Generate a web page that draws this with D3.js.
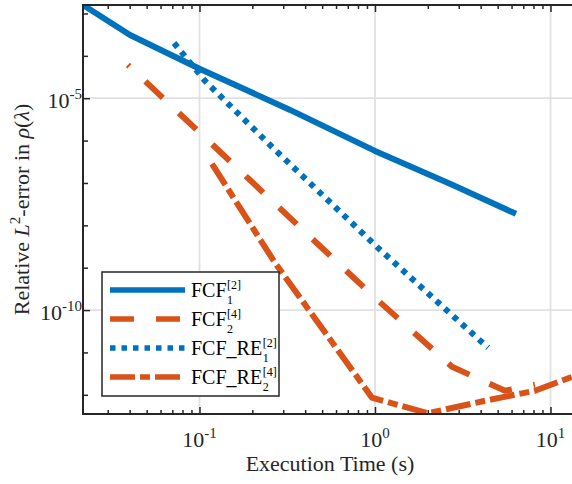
<!DOCTYPE html>
<html><head><meta charset="utf-8">
<script src="https://cdn.jsdelivr.net/npm/d3@7"></script>
<style>body{margin:0;background:#fff}</style>
</head><body>
<svg id="c" width="572" height="484"></svg>
<script>
// ---- data ----
const fcf1Time = [0.0217, 0.0402, 0.1007, 0.328, 1.0, 2.676, 6.36];
const fcf1Err  = [1.58e-3, 3.11e-4, 4.91e-5, 5.30e-6, 5.71e-7, 9.53e-8, 1.87e-8];

const fcf2Time = [0.0391, 0.1007, 0.328, 1.0, 2.746, 5.505, 8.16];
const fcf2Err  = [6.10e-5, 1.52e-6, 1.50e-8, 1.95e-10, 4.60e-12, 1.25e-12, 1.73e-12];

const fcfRe1Time = [0.0716, 0.1075, 0.2658, 1.040, 4.405];
const fcfRe1Err  = [2.01e-4, 2.56e-5, 6.37e-7, 2.94e-9, 1.29e-11];

const fcfRe2Time = [0.1178, 0.2692, 0.961, 2.004, 4.52, 8.16, 13.79];
const fcfRe2Err  = [2.82e-7, 1.31e-9, 8.55e-13, 3.68e-13, 7.66e-13, 1.25e-12, 2.82e-12];

const legendNames = ["FCF", "FCF", "FCF_RE", "FCF_RE"];
const legendSubs  = ["1", "2", "1", "2"];
const legendSups  = ["[2]", "[4]", "[2]", "[4]"];

const xTickExps = [-1, 0, 1];
const yTickExps = [-10, -5];
const xLabel = "Execution Time (s)";

// ---- layout ----
const FONT = "'Liberation Serif', 'Times New Roman', serif";
const L = 83, R = 577, T = 5, B = 414;
const x = d3.scaleLog().domain([0.02169, 14.16]).range([L, R]);
const y = d3.scaleLog().domain([Math.pow(10, -12.453), Math.pow(10, -2.80)]).range([B, T]);

const blue = "#0072BD", orange = "#D95319";
const series = [
  {t: fcf1Time, e: fcf1Err, color: blue, dash: null, off: 0},
  {t: fcf2Time, e: fcf2Err, color: orange, dash: "24 22", off: 22},
  {t: fcfRe1Time, e: fcfRe1Err, color: blue, dash: "5.5 6", off: 0},
  {t: fcfRe2Time, e: fcfRe2Err, color: orange, dash: "25 5 10 5", off: 0}
];

const svg = d3.select("#c");
svg.append("rect").attr("width", 572).attr("height", 484).attr("fill", "#fff");

svg.append("defs").append("clipPath").attr("id", "clip")
  .append("rect").attr("x", L).attr("y", T).attr("width", R - L).attr("height", B - T);

// grid
const g = svg.append("g");
g.selectAll("line.gx").data(xTickExps).join("line")
  .attr("x1", d => x(Math.pow(10, d))).attr("x2", d => x(Math.pow(10, d)))
  .attr("y1", T).attr("y2", B).attr("stroke", "#e1e1e1").attr("stroke-width", 1.8);
g.selectAll("line.gy").data(yTickExps).join("line")
  .attr("y1", d => y(Math.pow(10, d))).attr("y2", d => y(Math.pow(10, d)))
  .attr("x1", L).attr("x2", R).attr("stroke", "#e1e1e1").attr("stroke-width", 1.8);

// series
const line = d3.line().x(d => x(d[0])).y(d => y(d[1]));
const lg = svg.append("g").attr("clip-path", "url(#clip)");
series.forEach(s => {
  const pts = s.t.map((t, i) => [t, s.e[i]]);
  const p = lg.append("path").attr("d", line(pts)).attr("fill", "none")
    .attr("stroke", s.color).attr("stroke-width", 6)
    .attr("stroke-linejoin", "round");
  if (s.dash) p.attr("stroke-dasharray", s.dash).attr("stroke-dashoffset", s.off);
});

// axes
const axCol = "#262626";
const xMinor = x.ticks().filter(v => !xTickExps.some(e => Math.abs(Math.log10(v) - e) < 1e-9));
const xMajor = xTickExps.map(e => Math.pow(10, e));
const yAll = d3.range(-12, -2).map(e => Math.pow(10, e));
const yMinor = yAll.filter(v => !yTickExps.some(e => Math.abs(Math.log10(v) - e) < 1e-9));
const yMajor = yTickExps.map(e => Math.pow(10, e));

function styleAxis(sel) {
  sel.select(".domain").remove();
  sel.selectAll(".tick line").attr("stroke", axCol).attr("stroke-width", 1.5);
  sel.selectAll(".tick text").remove();
}
svg.append("g").attr("transform", `translate(0,${B})`)
  .call(d3.axisBottom(x).tickValues(xMinor).tickSize(-4).tickFormat("")).call(styleAxis);
svg.append("g").attr("transform", `translate(0,${B})`)
  .call(d3.axisBottom(x).tickValues(xMajor).tickSize(-7).tickFormat("")).call(styleAxis);
svg.append("g").attr("transform", `translate(0,${T})`)
  .call(d3.axisTop(x).tickValues(xMinor).tickSize(-4).tickFormat("")).call(styleAxis);
svg.append("g").attr("transform", `translate(0,${T})`)
  .call(d3.axisTop(x).tickValues(xMajor).tickSize(-7).tickFormat("")).call(styleAxis);
svg.append("g").attr("transform", `translate(${L},0)`)
  .call(d3.axisLeft(y).tickValues(yMinor).tickSize(-5).tickFormat("")).call(styleAxis);
svg.append("g").attr("transform", `translate(${L},0)`)
  .call(d3.axisLeft(y).tickValues(yMajor).tickSize(-7).tickFormat("")).call(styleAxis);

// box
svg.append("path").attr("d", `M${R},${T}H${L}V${B}H${R}`)
  .attr("fill", "none").attr("stroke", axCol).attr("stroke-width", 2);

// tick labels
xTickExps.forEach(e => {
  const t = svg.append("text").attr("x", x(Math.pow(10, e))).attr("y", 447)
    .attr("text-anchor", "middle").attr("font-family", FONT).attr("fill", axCol);
  t.append("tspan").attr("font-size", 22).text("10");
  t.append("tspan").attr("font-size", 15).attr("dy", -9).text(e < 0 ? "-" + (-e) : String(e));
});
yTickExps.forEach(e => {
  const yy = y(Math.pow(10, e));
  const t = svg.append("text").attr("x", 82).attr("y", yy + 10)
    .attr("text-anchor", "end").attr("font-family", FONT).attr("fill", axCol);
  t.append("tspan").attr("font-size", 22).text("10");
  t.append("tspan").attr("font-size", 15).attr("dy", -9).text("-" + (-e));
});

// axis labels
svg.append("text").attr("x", (L + R) / 2).attr("y", 471).attr("text-anchor", "middle")
  .attr("font-family", FONT).attr("font-size", 22).attr("fill", axCol).text(xLabel);

const yl = svg.append("text").attr("transform", `translate(29,${(T + B) / 2}) rotate(-90)`)
  .attr("text-anchor", "middle").attr("font-family", FONT).attr("font-size", 22).attr("fill", axCol);
yl.append("tspan").text("Relative ");
yl.append("tspan").attr("font-style", "italic").text("L");
yl.append("tspan").attr("font-size", 15).attr("dy", -9).text("2");
yl.append("tspan").attr("dy", 9).text("-error in ");
yl.append("tspan").attr("font-style", "italic").text("ρ");
yl.append("tspan").text("(");
yl.append("tspan").attr("font-style", "italic").text("λ");
yl.append("tspan").text(")");

// legend
const lgd = svg.append("g");
lgd.append("rect").attr("x", 102).attr("y", 272).attr("width", 177).attr("height", 124)
  .attr("fill", "#fff").attr("stroke", axCol).attr("stroke-width", 1.5);
series.forEach((s, i) => {
  const ly = 290 + i * 29;
  const l = lgd.append("line").attr("x1", 110).attr("x2", 185).attr("y1", ly).attr("y2", ly)
    .attr("stroke", s.color).attr("stroke-width", 5.5);
  if (s.dash) l.attr("stroke-dasharray", s.dash);
  const base = ly + 7;
  const tx = lgd.append("text").attr("x", 191).attr("y", base).attr("font-family", FONT)
    .attr("font-size", 20).attr("fill", "#000").text(legendNames[i]);
  const w = tx.node().getComputedTextLength();
  lgd.append("text").attr("x", 191 + w + 0.5).attr("y", base + 7).attr("font-family", FONT)
    .attr("font-size", 12).attr("fill", "#000").text(legendSubs[i]);
  lgd.append("text").attr("x", 191 + w + 0.5).attr("y", base - 8.5).attr("font-family", FONT)
    .attr("font-size", 12).attr("fill", "#000").text(legendSups[i]);
});
</script>
</body></html>
